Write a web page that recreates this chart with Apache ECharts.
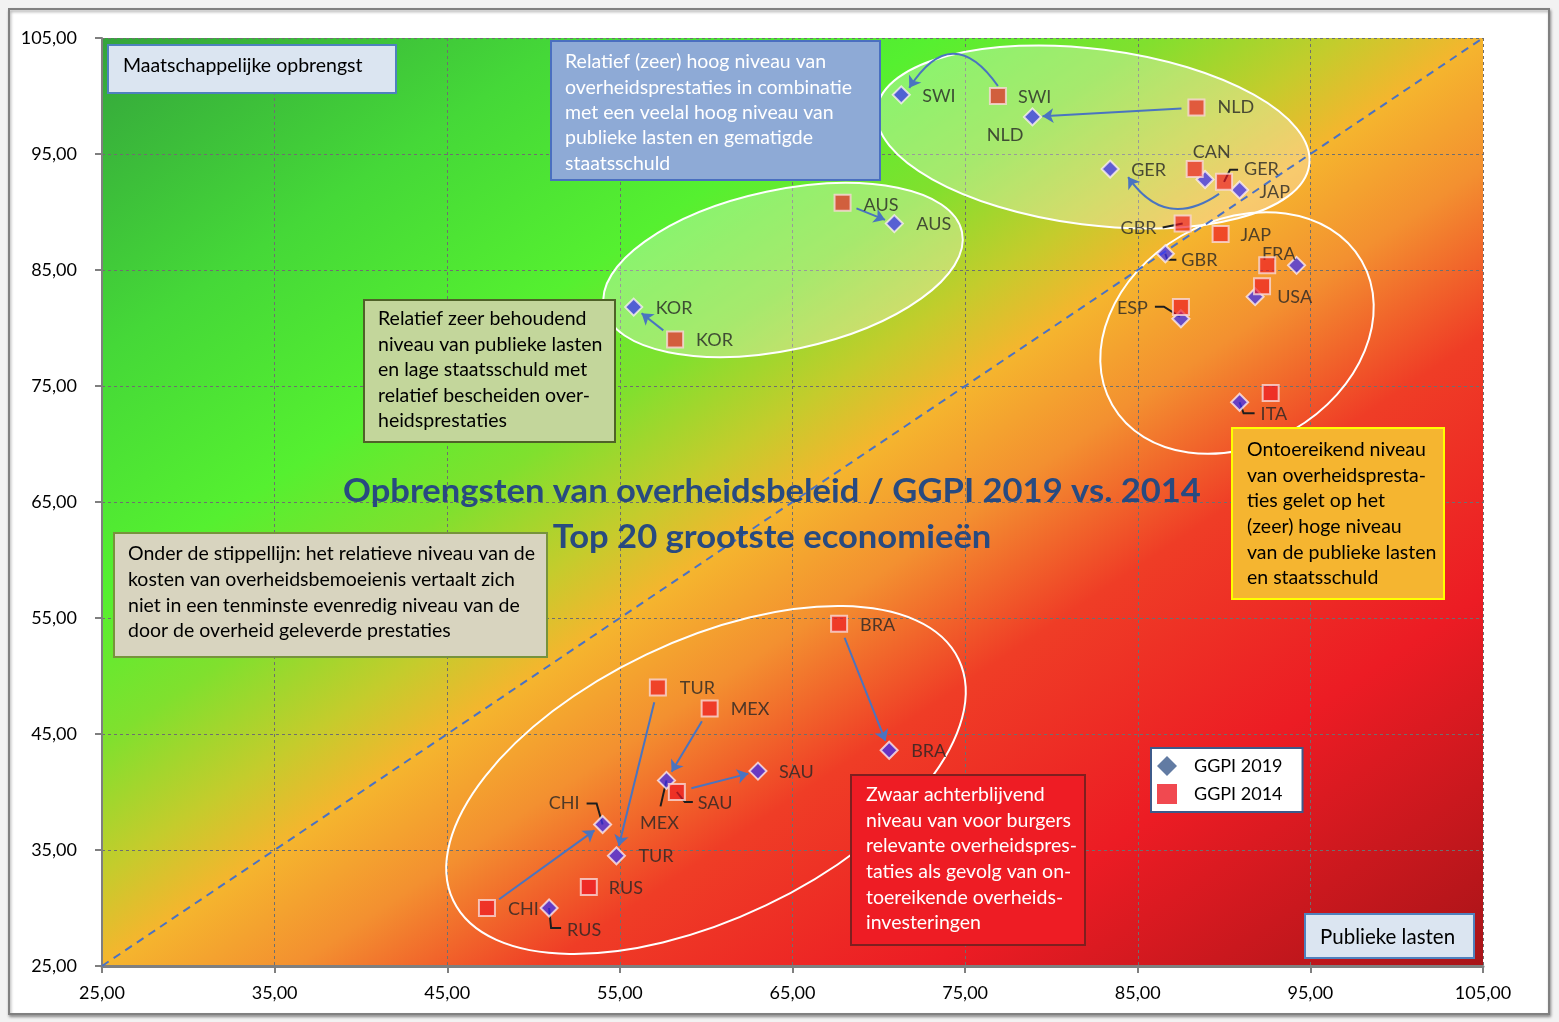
<!DOCTYPE html>
<html>
<head>
<meta charset="utf-8">
<script src="https://cdn.jsdelivr.net/npm/echarts@6/dist/echarts.min.js"></script>
<style>
html,body{margin:0;padding:0;background:#f2f2f2;}
#chart{width:1559px;height:1022px;}
</style>
</head>
<body>
<div id="chart"></div>
<script>
// ---------------- DATA ----------------
const countries = ['SWI','NLD','GER','CAN','JAP','AUS','KOR','GBR','FRA','USA','ESP','ITA','BRA','TUR','MEX','SAU','CHI','RUS'];
// GGPI 2019: x = publieke lasten, y = maatschappelijke opbrengst
const lasten2019     = [71.3, 78.9, 83.4, 88.9, 90.9, 70.9, 55.8, 86.6, 94.2, 91.8, 87.5, 90.9, 70.6, 54.8, 57.7, 63.0, 54.0, 50.9];
const opbrengst2019  = [100.1, 98.2, 93.7, 92.8, 91.9, 89.0, 81.8, 86.4, 85.4, 82.7, 80.8, 73.6, 43.6, 34.5, 41.0, 41.8, 37.2, 30.0];
// GGPI 2014
const lasten2014     = [76.9, 88.4, 90.0, 88.3, 89.8, 67.9, 58.2, 87.6, 92.5, 92.2, 87.5, 92.7, 67.7, 57.2, 60.2, 58.3, 47.3, 53.2];
const opbrengst2014  = [100.0, 99.0, 92.6, 93.7, 88.1, 90.8, 79.0, 89.0, 85.4, 83.6, 81.8, 74.4, 54.5, 49.0, 47.2, 40.0, 30.0, 31.8];
// countries with a 2014 -> 2019 arrow
const arrowCountries = ['SWI','NLD','GER','AUS','KOR','BRA','TUR','MEX','SAU','CHI'];
// axis ticks (both axes)
const axisTicks = [25, 35, 45, 55, 65, 75, 85, 95, 105];
const seriesNames = ['GGPI 2019', 'GGPI 2014'];
const titleLines = ['Opbrengsten van overheidsbeleid / GGPI 2019 vs. 2014', 'Top 20 grootste economieën'];

// ---------------- STYLE / PLACEMENT ----------------
const FONT = 'Lato';
// label placement: [align, dx, dy] in px relative to marker centre
const labelPlacement = {
  '2019': {
    SWI:['left',21,1], NLD:['right',-9,18], GER:['left',21,1], JAP:['left',20,2],
    AUS:['left',22,1], KOR:['left',22,1], GBR:['left',16,6], FRA:['right',-1,-11],
    USA:['left',22,1], ESP:['right',-33,-11], ITA:['left',21,12], BRA:['left',22,1],
    SAU:['left',21,1], MEX:['center',-7,43], CHI:['right',-23,-21], TUR:['left',22,0],
    RUS:['left',18,22]
  },
  '2014': {
    SWI:['left',20,1], NLD:['left',21,0], CAN:['center',17,-17], GER:['left',20,-13],
    AUS:['left',21,2], KOR:['left',21,1], GBR:['right',-26,5], JAP:['left',20,1],
    BRA:['left',21,1], TUR:['left',22,1], MEX:['left',21,1], SAU:['left',21,11],
    CHI:['left',21,1], RUS:['left',20,1]
  }
};
const leaderLines = [
  {c:'GER', y:'2014', pts:[[0,0],[6,-12],[14,-12]]},
  {c:'GBR', y:'2014', pts:[[-20,4],[0,0]]},
  {c:'GBR', y:'2019', pts:[[0,0],[2,6],[11,6]]},
  {c:'ESP', y:'2019', pts:[[-26,-12],[-17,-12],[-1,-2]]},
  {c:'ITA', y:'2019', pts:[[0,0],[4,11],[15,11]]},
  {c:'SAU', y:'2014', pts:[[0,0],[8,10],[16,10]]},
  {c:'MEX', y:'2019', pts:[[0,0],[-6,26]]},
  {c:'CHI', y:'2019', pts:[[0,0],[-6,-21],[-16,-21]]},
  {c:'RUS', y:'2019', pts:[[0,0],[2,20],[12,20]]}
];
const curvedArrows = {
  SWI: {s:[0,-10], e:[8,-7], curveness:-0.75},
  GER: {s:[-5,12], e:[18,8], curveness:0.5}
};

function fmt(v){ return v.toFixed(2).replace('.', ','); }

function buildData(xs, ys, year){
  return countries.map(function(c, i){
    const lp = labelPlacement[year][c];
    const item = {name:c, value:[xs[i], ys[i]]};
    if (lp) {
      item.label = {show:true, position:'inside', align:lp[0], verticalAlign:'middle',
        offset:[lp[1], lp[2]], formatter:c, color:'#262626',
        textBorderWidth:0, textBorderColor:'transparent', fontFamily:FONT, fontSize:18};
    } else {
      item.label = {show:false};
    }
    return item;
  });
}

const chart = echarts.init(document.getElementById('chart'), null, {renderer:'canvas'});

const bgGradient = {
  type:'linear', x:0, y:0, x2:0.622, y2:1.378, global:false,
  colorStops:[
    {offset:0.00, color:'#34a43c'},
    {offset:0.17, color:'#45d838'},
    {offset:0.30, color:'#55f030'},
    {offset:0.38, color:'#80e02e'},
    {offset:0.45, color:'#c4cc2c'},
    {offset:0.50, color:'#f5b52e'},
    {offset:0.57, color:'#f39030'},
    {offset:0.66, color:'#ef3d26'},
    {offset:0.80, color:'#ec1c24'},
    {offset:1.00, color:'#a81418'}
  ]
};

const option = {
  animation:false,
  backgroundColor:'#f2f2f2',
  textStyle:{fontFamily:FONT},
  grid:{left:102, top:38, width:1381, height:928, show:true, backgroundColor:bgGradient, borderWidth:0, z:0},
  xAxis:{
    type:'value', min:axisTicks[0], max:axisTicks[axisTicks.length-1], interval:axisTicks[1]-axisTicks[0],
    axisLine:{show:true, onZero:false, lineStyle:{color:'#7f7f7f', width:3}},
    axisTick:{show:true, length:7, lineStyle:{color:'#7f7f7f', width:2}},
    axisLabel:{margin:18, formatter:fmt, fontFamily:FONT, fontSize:18, color:'#000'},
    splitLine:{show:true, lineStyle:{color:'#6f6f6f', type:[3,3], width:1}}
  },
  yAxis:{
    type:'value', min:axisTicks[0], max:axisTicks[axisTicks.length-1], interval:axisTicks[1]-axisTicks[0],
    axisLine:{show:true, onZero:false, lineStyle:{color:'#7f7f7f', width:2}},
    axisTick:{show:true, length:7, lineStyle:{color:'#7f7f7f', width:2}},
    axisLabel:{margin:25, formatter:fmt, fontFamily:FONT, fontSize:18, color:'#000'},
    splitLine:{show:true, lineStyle:{color:'#6f6f6f', type:[3,3], width:1}}
  },
  legend:{
    left:1151, top:748, orient:'vertical', padding:[8,20,8,6], itemGap:8, itemWidth:20, itemHeight:20,
    backgroundColor:'#ffffff', borderColor:'#3d5a8a', borderWidth:2, borderRadius:0, z:20,
    textStyle:{fontFamily:FONT, fontSize:18, color:'#000', padding:[0,0,0,12]},
    data:[
      {name:seriesNames[0], icon:'diamond', itemStyle:{color:'#3b5a8c', borderWidth:0}},
      {name:seriesNames[1], icon:'rect', itemStyle:{color:'#ee1c24', borderWidth:0}}
    ]
  },
  series:[
    {
      id:'diag', type:'line', data:[[axisTicks[0],axisTicks[0]],[axisTicks[axisTicks.length-1],axisTicks[axisTicks.length-1]]],
      showSymbol:false, symbol:'none', silent:true, z:2,
      lineStyle:{color:'#4a72c4', width:2, type:[8,6]}
    },
    {
      id:'arrows', type:'lines', coordinateSystem:'cartesian2d', z:4, silent:true,
      symbol:['none','arrow'], symbolSize:11,
      lineStyle:{color:'#4a74c0', width:2, opacity:1},
      data:[]
    },
    {
      name:seriesNames[0], type:'scatter', symbol:'diamond', symbolSize:17, z:5,
      itemStyle:{color:'rgba(58,48,245,0.93)', borderColor:'rgba(255,240,245,0.95)', borderWidth:2},
      data:buildData(lasten2019, opbrengst2019, '2019')
    },
    {
      name:seriesNames[1], type:'scatter', symbol:'rect', symbolSize:16, z:6,
      itemStyle:{color:'rgba(236,20,36,0.82)', borderColor:'#f8dada', borderWidth:2},
      data:buildData(lasten2014, opbrengst2014, '2014')
    }
  ]
};

chart.setOption(option);

// ---- arrows (2014 -> 2019) ----
function px(v){ return chart.convertToPixel({gridIndex:0}, v); }
function dt(p){ return chart.convertFromPixel({gridIndex:0}, p); }
const arrowData = arrowCountries.map(function(c){
  const i = countries.indexOf(c);
  const p1 = px([lasten2014[i], opbrengst2014[i]]);
  const p2 = px([lasten2019[i], opbrengst2019[i]]);
  let s, e, curv = 0;
  if (curvedArrows[c]) {
    const ca = curvedArrows[c];
    s = [p1[0]+ca.s[0], p1[1]+ca.s[1]];
    e = [p2[0]+ca.e[0], p2[1]+ca.e[1]];
    curv = ca.curveness;
  } else {
    const dx = p2[0]-p1[0], dy = p2[1]-p1[1];
    const L = Math.sqrt(dx*dx+dy*dy);
    const a = 15/L, b = 10/L;
    s = [p1[0]+dx*a, p1[1]+dy*a];
    e = [p2[0]-dx*b, p2[1]-dy*b];
  }
  return {coords:[dt(s), dt(e)], lineStyle:{curveness:curv}};
});

// ---- leader lines ----
const leaderGraphics = leaderLines.map(function(l, k){
  const i = countries.indexOf(l.c);
  const p = l.y === '2019' ? px([lasten2019[i], opbrengst2019[i]]) : px([lasten2014[i], opbrengst2014[i]]);
  return {type:'polyline', id:'leader'+k, z:3, silent:true,
    shape:{points:l.pts.map(function(o){ return [p[0]+o[0], p[1]+o[1]]; })},
    style:{stroke:'#1e1e1e', lineWidth:2, fill:null}};
});

function box(id, x, y, w, h, fill, stroke, lines, tx, firstCenter, lh, color, size){
  return [
    {type:'rect', id:id+'r', z:10, silent:true, shape:{x:x, y:y, width:w, height:h},
      style:{fill:fill, stroke:stroke, lineWidth:2}},
    {type:'text', id:id+'t', z:11, silent:true, x:tx, y:firstCenter - lh/2,
      style:{text:lines.join('\n'), fill:color, font:(size||19.5)+'px '+FONT, lineHeight:lh, align:'left', verticalAlign:'top'}}
  ];
}

function ell(id, cx, cy, rx, ry, deg, fill){
  return {type:'ellipse', id:id, z:1, silent:true, x:cx, y:cy, rotation:deg*Math.PI/180,
    shape:{cx:0, cy:0, rx:rx, ry:ry}, style:{fill:fill, stroke:'#ffffff', lineWidth:2}};
}

const graphics = [].concat(
  [{type:'rect', id:'frame', z:-5, silent:true, shape:{x:9, y:9, width:1540, height:1005},
    style:{fill:'#ffffff', stroke:'#808080', lineWidth:2, shadowBlur:3, shadowOffsetX:1, shadowOffsetY:2, shadowColor:'rgba(0,0,0,0.35)'}}],
  [ell('e1', 1093, 137, 218, 88, -7.25, 'rgba(255,255,255,0.3)'),
   ell('e2', 783, 270, 183, 80, 12, 'rgba(255,255,255,0.3)'),
   ell('e3', 1237, 333, 144, 112, 30, 'rgba(0,0,0,0)'),
   ell('e4', 706, 780, 280, 139, 25.5, 'rgba(0,0,0,0)')],
  leaderGraphics,
  box('b1', 108, 45, 288, 48, '#dbe5f1', '#4f81bd', ['Maatschappelijke opbrengst'], 123, 66, 24, '#000', 19.5),
  box('b2', 551, 41, 329, 139, '#8eaad6', '#4a6fc0',
    ['Relatief (zeer) hoog niveau van','overheidsprestaties in combinatie','met een veelal hoog niveau van','publieke lasten en gematigde','staatsschuld'],
    565, 62, 25.4, '#ffffff'),
  box('b3', 364, 300, 251, 142, '#c3d69b', '#4f6228',
    ['Relatief zeer behoudend','niveau van publieke lasten','en lage staatsschuld met','relatief bescheiden over-','heidsprestaties'],
    378, 319, 25.5, '#000'),
  box('b4', 114, 533, 433, 124, '#d8d4bf', '#77933c',
    ['Onder de stippellijn: het relatieve niveau van de','kosten van overheidsbemoeienis vertaalt zich','niet in een tenminste evenredig niveau van de','door de overheid geleverde prestaties'],
    128, 554, 25.7, '#000'),
  box('b5', 1232, 428, 212, 171, '#f5b530', '#ffff00',
    ['Ontoereikend niveau','van overheidspresta-','ties gelet op het','(zeer) hoge niveau','van de publieke lasten','en staatsschuld'],
    1247, 450, 25.6, '#000'),
  box('b6', 851, 775, 234, 170, '#ee1c24', '#7f1f1f',
    ['Zwaar achterblijvend','niveau van voor burgers','relevante overheidspres-','taties als gevolg van on-','toereikende overheids-','investeringen'],
    866, 795, 25.6, '#ffffff'),
  box('b7', 1305, 914, 169, 44, '#dbe5f1', '#4f81bd', ['Publieke lasten'], 1320, 937, 24, '#000', 20.5),
  [{type:'text', id:'title1', z:12, silent:true, x:772, y:492, scaleX:1.08, scaleY:1,
     style:{text:titleLines[0], fill:'#284a80', font:'bold 32px '+FONT, align:'center', verticalAlign:'middle'}},
   {type:'text', id:'title2', z:12, silent:true, x:772, y:538, scaleX:1.08, scaleY:1,
     style:{text:titleLines[1], fill:'#284a80', font:'bold 32px '+FONT, align:'center', verticalAlign:'middle'}}]
);

chart.setOption({
  series:[{id:'arrows', data:arrowData}],
  graphic:graphics
});
</script>
</body>
</html>
